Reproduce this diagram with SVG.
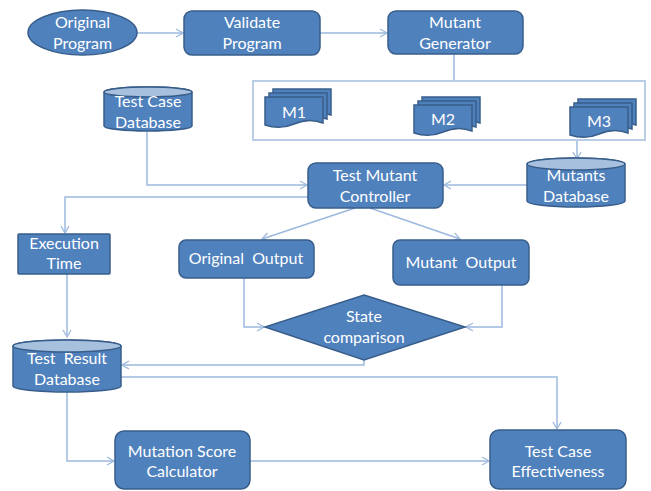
<svg xmlns="http://www.w3.org/2000/svg" width="651" height="491" viewBox="0 0 651 491">
<defs>
<style>
.n{fill:#4F81BD;stroke:#385D8A;stroke-width:1.5}
.top{fill:#A7C0DE;stroke:#385D8A;stroke-width:1.5}
.t{fill:#fff;font-family:Lato,"Open Sans",sans-serif;font-size:16px;text-anchor:middle}
.c{fill:none;stroke:#9DB9DE;stroke-width:1.5}
</style>
<marker id="a" markerWidth="10" markerHeight="10" refX="8" refY="5" orient="auto" markerUnits="userSpaceOnUse">
<path d="M1,1 L8,5 L1,9" fill="none" stroke="#9DB9DE" stroke-width="1.3"/>
</marker>
<path id="doc" d="M0,0 H58 V26 C48,22 38,23 29,27 C20,31 9,31 0,28 Z"/>
</defs>
<rect width="651" height="491" fill="#fff"/>

<g id="connectors">
<line class="c" x1="137" y1="33" x2="183" y2="33" marker-end="url(#a)"/>
<line class="c" x1="320" y1="33" x2="387" y2="33" marker-end="url(#a)"/>
<line class="c" x1="454" y1="54" x2="454" y2="81"/>
<polyline class="c" points="147,131 147,185 307,185" marker-end="url(#a)"/>
<line class="c" x1="577" y1="140" x2="577" y2="159" marker-end="url(#a)"/>
<line class="c" x1="527" y1="185" x2="444" y2="185" marker-end="url(#a)"/>
<polyline class="c" points="308,197 65,197 65,233" marker-end="url(#a)"/>
<line class="c" x1="355" y1="208" x2="262" y2="239" marker-end="url(#a)"/>
<line class="c" x1="370" y1="208" x2="460" y2="239" marker-end="url(#a)"/>
<polyline class="c" points="244,278 244,327 264,327" marker-end="url(#a)"/>
<polyline class="c" points="502,285 502,327 466,327" marker-end="url(#a)"/>
<polyline class="c" points="364,360 364,365 122,365" marker-end="url(#a)"/>
<polyline class="c" points="121,377 557,377 557,429" marker-end="url(#a)"/>
<line class="c" x1="67" y1="274" x2="67" y2="337" marker-end="url(#a)"/>
<polyline class="c" points="67,392 67,461 114,461" marker-end="url(#a)"/>
<line class="c" x1="250" y1="461" x2="489" y2="461" marker-end="url(#a)"/>
</g>

<g id="original-program">
<ellipse class="n" cx="82.5" cy="32.5" rx="54.5" ry="22.5"/>
<text class="t" x="82.5" y="28">Original</text>
<text class="t" x="82.5" y="49">Program</text>
</g>

<g id="validate-program">
<rect class="n" x="184" y="11" width="136" height="44" rx="8"/>
<text class="t" x="252" y="28">Validate</text>
<text class="t" x="252" y="49">Program</text>
</g>

<g id="mutant-generator">
<rect class="n" x="388" y="11" width="135" height="43" rx="8"/>
<text class="t" x="455" y="28">Mutant</text>
<text class="t" x="455" y="49">Generator</text>
</g>

<g id="mutants-box">
<rect x="253" y="81" width="392" height="59" fill="#fff" stroke="#B9CDE5" stroke-width="2"/>
</g>

<g id="m1">
<use href="#doc" class="n" x="273" y="89"/>
<use href="#doc" class="n" x="269" y="93"/>
<use href="#doc" class="n" x="265" y="97"/>
<text class="t" x="294" y="118">M1</text>
</g>

<g id="m2">
<use href="#doc" class="n" x="422" y="97"/>
<use href="#doc" class="n" x="418" y="101"/>
<use href="#doc" class="n" x="414" y="105"/>
<text class="t" x="443" y="125">M2</text>
</g>

<g id="m3">
<use href="#doc" class="n" x="578" y="99"/>
<use href="#doc" class="n" x="574" y="103"/>
<use href="#doc" class="n" x="570" y="107"/>
<text class="t" x="599" y="127">M3</text>
</g>

<g id="test-case-database">
<path class="n" d="M104,92 A44,5 0 0 1 192,92 V126 A44,5 0 0 1 104,126 Z"/>
<ellipse class="top" cx="148" cy="92" rx="44" ry="5"/>
<text class="t" x="148" y="107">Test Case</text>
<text class="t" x="148" y="128">Database</text>
</g>

<g id="test-mutant-controller">
<rect class="n" x="308" y="163" width="135" height="45" rx="8"/>
<text class="t" x="375" y="181">Test Mutant</text>
<text class="t" x="375" y="202">Controller</text>
</g>

<g id="mutants-database">
<path class="n" d="M527,164 A49,6 0 0 1 625,164 V201 A49,6 0 0 1 527,201 Z"/>
<ellipse class="top" cx="576" cy="164" rx="49" ry="6"/>
<text class="t" x="576" y="181">Mutants</text>
<text class="t" x="576" y="202">Database</text>
</g>

<g id="execution-time">
<rect class="n" x="18" y="234" width="92" height="40" rx="1"/>
<text class="t" x="64" y="249">Execution</text>
<text class="t" x="64" y="269">Time</text>
</g>

<g id="original-output">
<rect class="n" x="179" y="240" width="135" height="38" rx="7"/>
<text class="t" x="246" y="264">Original&#160; Output</text>
</g>

<g id="mutant-output">
<rect class="n" x="393" y="240" width="136" height="45" rx="7"/>
<text class="t" x="461" y="268">Mutant&#160; Output</text>
</g>

<g id="state-comparison">
<polygon class="n" points="364,295 465,327 364,360 265,327"/>
<text class="t" x="364" y="322">State</text>
<text class="t" x="364" y="343">comparison</text>
</g>

<g id="test-result-database">
<path class="n" d="M13,346 A54,6 0 0 1 121,346 V386 A54,6 0 0 1 13,386 Z"/>
<ellipse class="top" cx="67" cy="346" rx="54" ry="6"/>
<text class="t" x="67" y="364">Test&#160; Result</text>
<text class="t" x="67" y="385">Database</text>
</g>

<g id="mutation-score-calculator">
<rect class="n" x="115" y="431" width="135" height="58" rx="9"/>
<text class="t" x="182" y="457">Mutation Score</text>
<text class="t" x="182" y="477">Calculator</text>
</g>

<g id="test-case-effectiveness">
<rect class="n" x="490" y="430" width="136" height="59" rx="9"/>
<text class="t" x="558" y="457">Test Case</text>
<text class="t" x="558" y="477">Effectiveness</text>
</g>
</svg>
